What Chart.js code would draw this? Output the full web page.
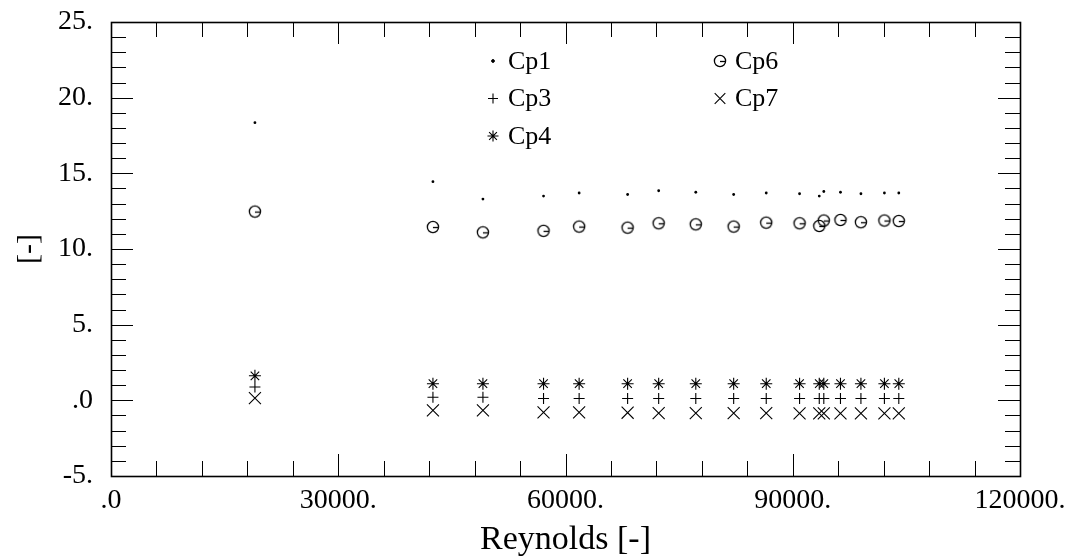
<!DOCTYPE html>
<html>
<head>
<meta charset="utf-8">
<script src="https://cdn.jsdelivr.net/npm/chart.js@4.4.1/dist/chart.umd.min.js"></script>
<style>
  html, body { margin: 0; padding: 0; background: #fff; }
  #chart { display: block; }
</style>
</head>
<body>
<canvas id="chart" width="1065" height="560"></canvas>
<script>
// Pressure coefficients against Reynolds number
const reynolds = [19000, 42500, 49100, 57100, 61800, 68200, 72300, 77200, 82200,
                  86500, 90900, 93500, 94100, 96300, 99000, 102100, 104000];
const cp1 = [18.35, 14.45, 13.3, 13.5, 13.7, 13.6, 13.85, 13.75, 13.6,
             13.7, 13.65, 13.5, 13.8, 13.75, 13.65, 13.7, 13.7];
const cp3 = [0.88, 0.2, 0.2, 0.12, 0.12, 0.12, 0.12, 0.12, 0.12,
             0.12, 0.12, 0.12, 0.12, 0.12, 0.12, 0.12, 0.12];
const cp4 = [1.62, 1.1, 1.1, 1.1, 1.1, 1.1, 1.1, 1.1, 1.1,
             1.1, 1.1, 1.1, 1.1, 1.1, 1.1, 1.1, 1.1];
const cp6 = [12.47, 11.45, 11.1, 11.2, 11.48, 11.41, 11.7, 11.63, 11.48,
             11.74, 11.7, 11.52, 11.88, 11.92, 11.77, 11.88, 11.85];
const cp7 = [0.15, -0.66, -0.66, -0.8, -0.8, -0.82, -0.84, -0.84, -0.84,
             -0.84, -0.86, -0.86, -0.86, -0.86, -0.86, -0.86, -0.86];

const xTicks = [0, 30000, 60000, 90000, 120000];
const yTicks = [-5, 0, 5, 10, 15, 20, 25];

const FONT = 'Liberation Serif';

// circle with a radius stroke to the right, used for Cp6
const ringMark = document.createElement('canvas');
ringMark.width = 16; ringMark.height = 16;
(function () {
  const c = ringMark.getContext('2d');
  c.strokeStyle = '#000';
  c.lineWidth = 1.3;
  c.beginPath(); c.arc(8, 8, 5.6, 0, Math.PI * 2); c.stroke();
  c.beginPath(); c.moveTo(8, 8.5); c.lineTo(13.6, 8.5); c.stroke();
})();

function pts(ys) {
  return reynolds.map((r, i) => ({ x: r, y: ys[i] }));
}

function fmt(v) {
  return v === 0 ? '.0' : v + '.';
}

const series = [
  { label: 'Cp1', data: pts(cp1), pointStyle: 'circle', pointRadius: 1.4, pointBorderWidth: 0, pointBackgroundColor: '#000' },
  { label: 'Cp3', data: pts(cp3), pointStyle: 'cross', pointRadius: 5.5, pointBorderWidth: 1.1 },
  { label: 'Cp4', data: pts(cp4), pointStyle: 'star', pointRadius: 6, pointBorderWidth: 1.1 },
  { label: 'Cp6', data: pts(cp6), pointStyle: ringMark, pointRadius: 6, pointBorderWidth: 1 },
  { label: 'Cp7', data: pts(cp7), pointStyle: 'crossRot', pointRadius: 8.5, pointBorderWidth: 1.1 }
];
series.forEach(s => {
  s.showLine = false;
  s.pointBorderColor = '#000';
  if (!s.pointBackgroundColor) s.pointBackgroundColor = 'rgba(0,0,0,0)';
  s.pointHoverRadius = s.pointRadius;
});

// box frame with inward ticks on all four sides
const frameTicks = {
  id: 'frameTicks',
  afterDatasetsDraw(chart) {
    const { ctx, chartArea: a, scales: { x, y } } = chart;
    ctx.save();
    ctx.strokeStyle = '#000';
    ctx.lineWidth = 1;
    ctx.beginPath();
    for (let v = 0; v <= 120000; v += 6000) {
      const px = Math.round(x.getPixelForValue(v)) + 0.5;
      const len = v % 30000 === 0 ? 22 : 15;
      ctx.moveTo(px, a.bottom); ctx.lineTo(px, a.bottom - len);
      ctx.moveTo(px, a.top); ctx.lineTo(px, a.top + len);
    }
    for (let v = -5; v <= 25; v += 1) {
      const py = Math.round(y.getPixelForValue(v)) + 0.5;
      const len = v % 5 === 0 ? 22 : 15;
      ctx.moveTo(a.left, py); ctx.lineTo(a.left + len, py);
      ctx.moveTo(a.right, py); ctx.lineTo(a.right - len, py);
    }
    ctx.stroke();
    ctx.lineWidth = 1.6;
    ctx.strokeRect(Math.round(a.left) + 0.5, Math.round(a.top) + 0.5,
                   Math.round(a.right - a.left), Math.round(a.bottom - a.top));
    ctx.restore();
  }
};

// two-column key inside the plot
const keyBox = {
  id: 'keyBox',
  afterDraw(chart) {
    const ctx = chart.ctx;
    const cols = [493, 720];
    const rows = [61, 98.5, 136];
    ctx.save();
    ctx.font = '26px "' + FONT + '"';
    ctx.textBaseline = 'middle';
    chart.data.datasets.forEach((ds, i) => {
      const col = i < 3 ? 0 : 1;
      const row = i < 3 ? i : i - 3;
      const mx = cols[col], my = rows[row];
      ctx.strokeStyle = '#000';
      ctx.fillStyle = '#000';
      ctx.lineWidth = ds.pointBorderWidth || 1;
      let r = ds.pointRadius;
      if (ds.label === 'Cp7') r = 7.5;
      if (ds.label === 'Cp4') r = 5.5;
      if (ds.label === 'Cp3') r = 5;
      Chart.helpers.drawPoint(ctx, { pointStyle: ds.pointStyle, radius: r, borderWidth: ctx.lineWidth, rotation: 0 }, mx, my);
      ctx.fillStyle = '#000';
      ctx.fillText(ds.label, mx + 15, my + 1);
    });
    ctx.restore();
  }
};

new Chart(document.getElementById('chart'), {
  type: 'scatter',
  data: { datasets: series },
  plugins: [frameTicks, keyBox],
  options: {
    responsive: false,
    animation: false,
    devicePixelRatio: 1,
    layout: { padding: { top: 22, right: 45, left: 0, bottom: 0 } },
    plugins: {
      legend: { display: false },
      tooltip: { enabled: false }
    },
    scales: {
      x: {
        type: 'linear',
        min: 0,
        max: 120000,
        afterBuildTicks: s => { s.ticks = xTicks.map(v => ({ value: v })); },
        afterFit: s => { s.height = 84; s.paddingLeft = 0; s.paddingRight = 0; },
        grid: { display: false, drawTicks: false },
        border: { display: false },
        ticks: {
          callback: fmt,
          color: '#000',
          padding: 8,
          maxRotation: 0,
          font: { family: FONT, size: 28 }
        },
        title: {
          display: true,
          text: 'Reynolds [-]',
          color: '#000',
          padding: { top: 0, bottom: 0 },
          font: { family: FONT, size: 34 }
        }
      },
      y: {
        type: 'linear',
        min: -5,
        max: 25,
        afterBuildTicks: s => { s.ticks = yTicks.map(v => ({ value: v })); },
        afterFit: s => { s.width = 111; s.paddingTop = 0; s.paddingBottom = 0; },
        grid: { display: false, drawTicks: false },
        border: { display: false },
        ticks: {
          callback: fmt,
          color: '#000',
          padding: 18,
          font: { family: FONT, size: 28 }
        },
        title: {
          display: true,
          text: '[-]',
          color: '#000',
          padding: { top: 11, bottom: 0 },
          font: { family: FONT, size: 30 }
        }
      }
    }
  }
});
</script>
</body>
</html>
